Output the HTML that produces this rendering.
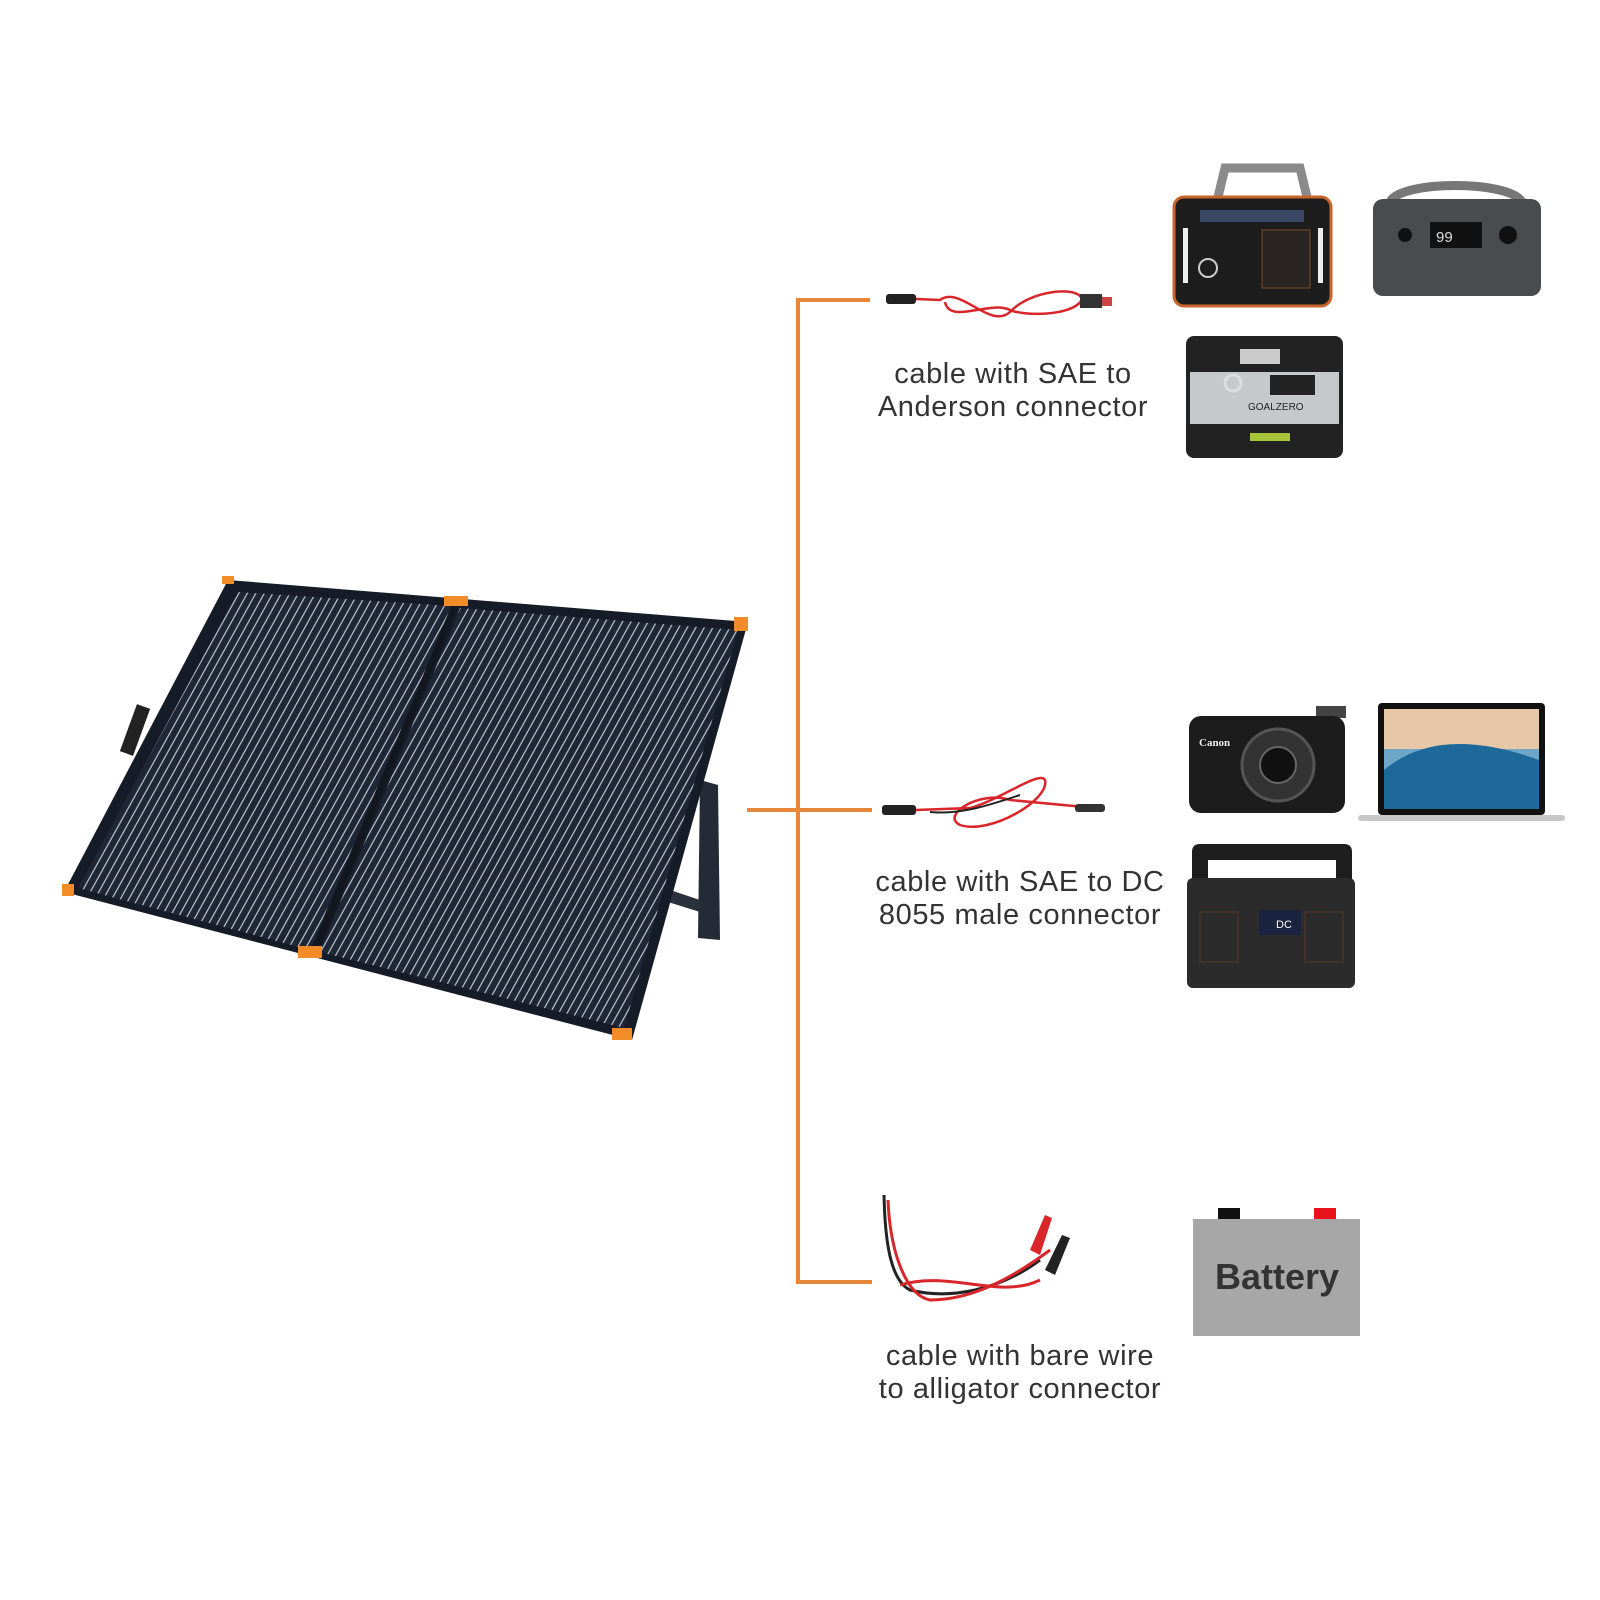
<!DOCTYPE html>
<html><head><meta charset="utf-8"><style>
html,body{margin:0;padding:0;background:#fff;}
body{width:1600px;height:1600px;position:relative;overflow:hidden;font-family:"Liberation Sans",sans-serif;}
.lbl{position:absolute;font-size:29px;color:#333;text-align:center;line-height:33px;width:380px;letter-spacing:0.6px;}
</style></head><body>
<svg width="1600" height="1600" style="position:absolute;left:0;top:0">
<defs>
<pattern id="cells" width="8.5" height="20" patternUnits="userSpaceOnUse" patternTransform="skewX(-29)">
<rect width="8.5" height="20" fill="#1f2736"/>
<rect x="6" width="1.4" height="20" fill="#b9c0cb"/>
</pattern>
</defs>
<polygon points="700,780 718,785 720,940 698,938" fill="#242a36"/>
<polygon points="670,890 700,900 700,912 668,902" fill="#2a303c"/>
<polygon points="228,580 748,622 632,1040 64,892" fill="#161c27"/>
<polygon points="238,592 452,606 310,950 78,888" fill="url(#cells)"/>
<polygon points="460,608 738,630 624,1028 320,952" fill="url(#cells)"/>
<line x1="456" y1="602" x2="314" y2="953" stroke="#12161f" stroke-width="6"/>
<g fill="#f28c28">
<rect x="222" y="576" width="12" height="8"/>
<rect x="444" y="596" width="24" height="10"/>
<rect x="734" y="617" width="14" height="14"/>
<rect x="62" y="884" width="12" height="12"/>
<rect x="298" y="946" width="24" height="12"/>
<rect x="612" y="1028" width="20" height="12"/>
</g>
<rect x="128" y="705" width="14" height="50" fill="#222" transform="rotate(20 135 730)"/>
<g stroke="#e8873a" stroke-width="4" fill="none">
<line x1="798" y1="298" x2="798" y2="1284"/>
<line x1="796" y1="300" x2="870" y2="300"/>
<line x1="747" y1="810" x2="872" y2="810"/>
<line x1="796" y1="1282" x2="872" y2="1282"/>
</g>
<rect x="886" y="294" width="30" height="10" rx="3" fill="#222"/>
<path d="M916 299 L940 300 C960 285 990 330 1010 312 C1030 290 1080 285 1082 300 C1070 318 1020 315 1010 310 C990 300 950 325 945 302" stroke="#d8262a" stroke-width="2.5" fill="none"/>
<rect x="1080" y="294" width="22" height="14" fill="#333"/><rect x="1102" y="297" width="10" height="9" fill="#c44"/>
<rect x="882" y="805" width="34" height="10" rx="3" fill="#222"/>
<path d="M916 810 L970 808 C1000 800 1040 770 1045 780 C1050 800 990 835 960 825 C940 815 980 790 1010 800 L1095 808" stroke="#d8262a" stroke-width="2.5" fill="none"/>
<path d="M930 812 C960 815 990 805 1020 795" stroke="#222" stroke-width="2" fill="none"/>
<rect x="1075" y="804" width="30" height="8" rx="3" fill="#333"/>
<path d="M884 1195 C885 1240 890 1280 910 1290 C950 1300 1000 1290 1040 1260" stroke="#222" stroke-width="3" fill="none"/>
<path d="M888 1200 C890 1250 905 1295 930 1300 C970 1300 1010 1280 1050 1250" stroke="#d8262a" stroke-width="3" fill="none"/>
<path d="M900 1285 C950 1270 1000 1300 1040 1280" stroke="#d8262a" stroke-width="3" fill="none"/>
<polygon points="1030,1250 1045,1215 1052,1218 1040,1255" fill="#d8262a"/>
<polygon points="1045,1270 1062,1235 1070,1238 1055,1275" fill="#222"/>
<path d="M1218 197 L1225 168 L1300 168 L1307 197" stroke="#8a8a8a" stroke-width="9" fill="none"/>
<rect x="1174" y="197" width="157" height="109" rx="10" fill="#1d1d1d" stroke="#c8652a" stroke-width="3"/>
<rect x="1200" y="210" width="104" height="12" fill="#3a4a66"/>
<rect x="1183" y="228" width="5" height="55" fill="#eee"/><rect x="1318" y="228" width="5" height="55" fill="#eee"/>
<rect x="1262" y="230" width="48" height="58" fill="#2a2522" stroke="#7a4a2a"/>
<circle cx="1208" cy="268" r="9" fill="none" stroke="#ccc" stroke-width="2"/>
<path d="M1390 202 C1400 180 1510 180 1522 202" stroke="#777" stroke-width="9" fill="none"/>
<rect x="1373" y="199" width="168" height="97" rx="10" fill="#4a4b4d"/>
<rect x="1430" y="222" width="52" height="26" fill="#111"/>
<text x="1436" y="242" font-size="15" fill="#ddd" font-family="Liberation Sans">99</text>
<circle cx="1405" cy="235" r="7" fill="#111"/><circle cx="1508" cy="235" r="9" fill="#111"/>
<rect x="1186" y="336" width="157" height="122" rx="8" fill="#222"/>
<rect x="1190" y="372" width="149" height="52" fill="#c7c8ca"/>
<rect x="1240" y="349" width="40" height="15" fill="#ccc"/>
<circle cx="1233" cy="383" r="8" fill="none" stroke="#ddd" stroke-width="3"/>
<rect x="1270" y="375" width="45" height="20" fill="#222"/>
<text x="1248" y="410" font-size="10" fill="#222" font-family="Liberation Sans">GOALZERO</text>
<rect x="1250" y="433" width="40" height="8" fill="#a8c43a"/>
<rect x="1316" y="706" width="30" height="12" fill="#444"/>
<rect x="1189" y="716" width="156" height="97" rx="12" fill="#1c1c1c"/>
<circle cx="1278" cy="765" r="36" fill="#333" stroke="#555" stroke-width="3"/>
<circle cx="1278" cy="765" r="18" fill="#111" stroke="#666" stroke-width="2"/>
<text x="1199" y="746" font-size="11" fill="#eee" font-weight="bold" font-family="Liberation Serif">Canon</text>
<rect x="1378" y="703" width="167" height="112" rx="4" fill="#111"/>
<rect x="1384" y="709" width="155" height="100" fill="#6ea6c8"/>
<rect x="1384" y="709" width="155" height="40" fill="#e6c7a8"/>
<path d="M1384 770 C1420 740 1470 735 1539 760 L1539 809 L1384 809 Z" fill="#1d6a9a"/>
<rect x="1358" y="815" width="207" height="6" rx="3" fill="#c8c8c8"/>
<path d="M1192 880 L1192 852 Q1192 844 1200 844 L1344 844 Q1352 844 1352 852 L1352 880 L1336 880 L1336 860 L1208 860 L1208 880 Z" fill="#1e1e1e"/>
<rect x="1187" y="878" width="168" height="110" rx="6" fill="#2b2b2b"/>
<rect x="1259" y="910" width="42" height="25" fill="#1a2340"/>
<text x="1276" y="928" font-size="11" fill="#fff" font-family="Liberation Sans">DC</text>
<rect x="1200" y="912" width="38" height="50" fill="none" stroke="#5a3a2a"/>
<rect x="1305" y="912" width="38" height="50" fill="none" stroke="#5a3a2a"/>
<rect x="1218" y="1208" width="22" height="12" fill="#111"/>
<rect x="1314" y="1208" width="22" height="12" fill="#e8141b"/>
<rect x="1193" y="1219" width="167" height="117" fill="#a7a7a7"/>
<text x="1277" y="1289" font-size="36" font-weight="bold" fill="#333" text-anchor="middle" font-family="Liberation Sans">Battery</text>
</svg>
<div class="lbl" style="left:823px;top:358px">cable with SAE to<br>Anderson connector</div>
<div class="lbl" style="left:830px;top:866px">cable with SAE to DC<br>8055 male connector</div>
<div class="lbl" style="left:830px;top:1340px">cable with bare wire<br>to alligator connector</div>
</body></html>
